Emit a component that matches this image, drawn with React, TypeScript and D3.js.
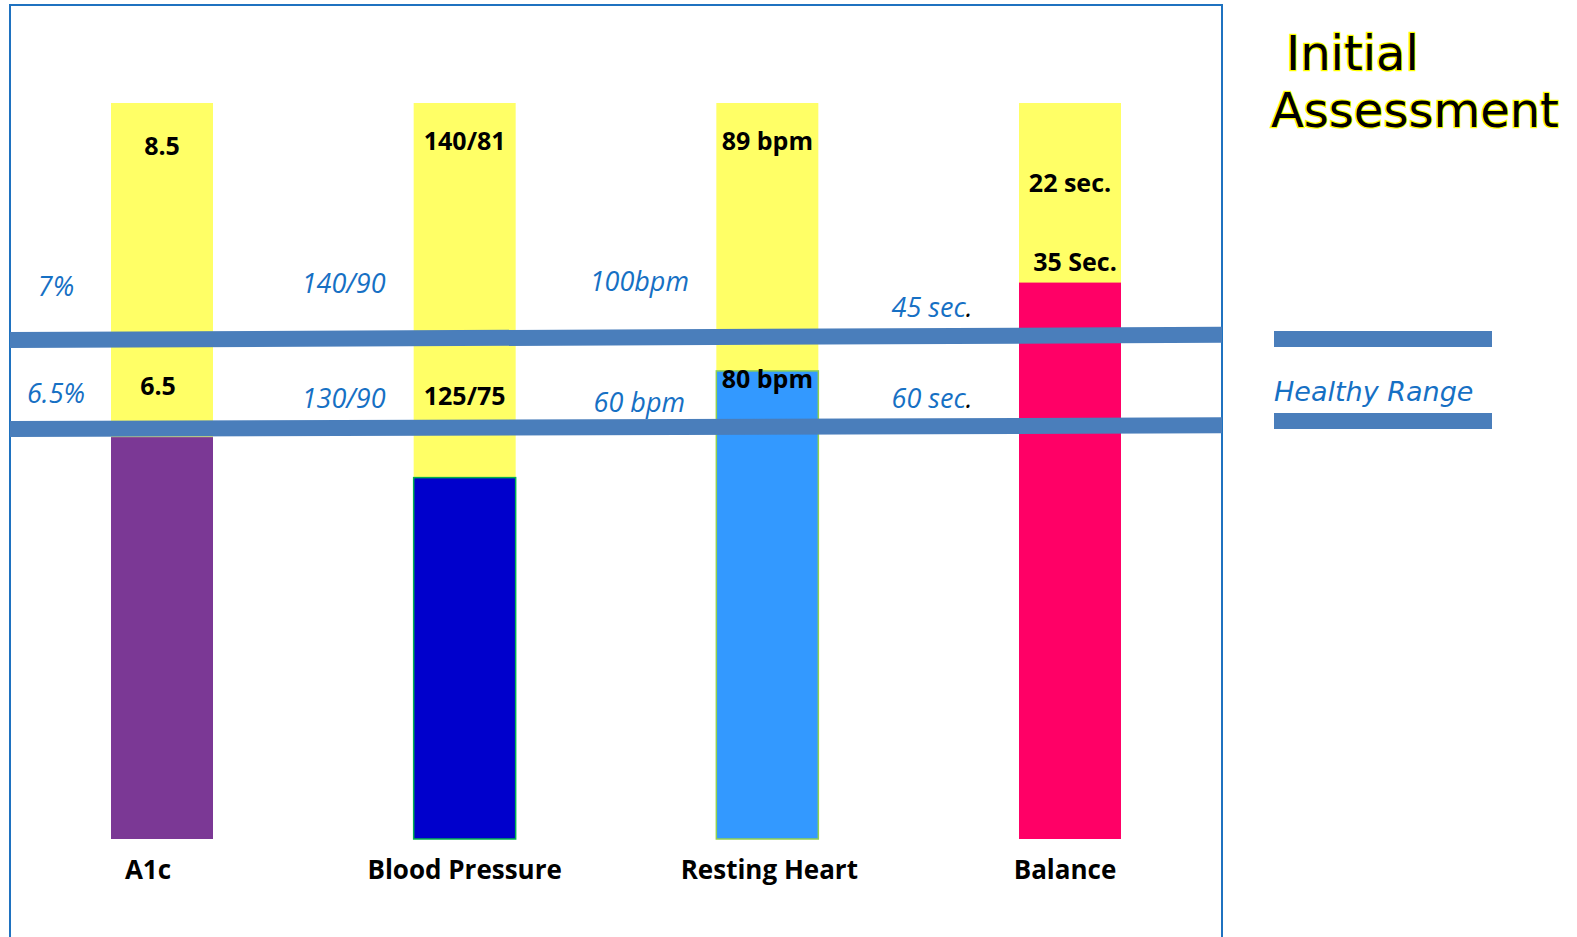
import * as d3 from "d3";

// categories and values (values on an arbitrary 0-100 "score" axis, yellow = initial)
const categories = ["A1c", "Blood Pressure", "Resting Heart", "Balance"];
const initialScore = [100, 100, 100, 100];
const currentScore = [54.6, 49.1, 63.6, 75.6];
const initialLabels = ["8.5", "140/81", "89 bpm", "22 sec."];
const currentLabels = ["6.5", "125/75", "80 bpm", "35 Sec."];
const upperLimitLabels = ["7%", "140/90", "100bpm", "45 sec"];
const lowerLimitLabels = ["6.5%", "130/90", "60 bpm", "60 sec"];
const barColors = ["#7b3895", "#0000cc", "#3399ff", "#ff0066"];
const barEdges = ["none", "#00b050", "#92d050", "none"];
// healthy range band (score units) at left and right end - slightly tilted
const bandLeft = [67.8, 55.7];
const bandRight = [68.5, 56.2];

// layout nudges (px)
const initialLabelY = [155, 150, 150, 192];
const currentLabelY = [395, 405, 388, 271];
const currentLabelDx = [-4, 0, 0, 5];
const upperLabelY = [296, 293, 291, 317];
const lowerLabelY = [403, 408, 412, 408];
const limitLabelDx = [-106, -121, -128, -138];
const catLabelDx = [-14, 0, 2, -5];

const W = 1577, H = 937;
const frame = { x: 10, y: 5, r: 1222 };
const barW = 102;

const x = d3.scalePoint<string>().domain(categories).range([162, 1070]);
const y = d3.scaleLinear().domain([0, 100]).range([839, 103]);

const blue = "#1670c4";
const bandColor = "#4a7ebb";

export default function App() {
  const bandLine = (i: number) =>
    d3.line()([[frame.x, y(bandLeft[i])], [frame.r, y(bandRight[i])]]) || "";
  return (
    <svg width={W} height={H} style={{ position: "absolute", left: 0, top: 0, background: "#fff" }}>
      <rect x={frame.x} y={frame.y} width={frame.r - frame.x} height={H + 20}
        fill="none" stroke="#1f72c0" strokeWidth={2} />
      {categories.map((c, i) => (
        <g key={c}>
          <rect x={x(c)! - barW / 2} y={y(initialScore[i])} width={barW}
            height={y(0) - y(initialScore[i])} fill="#ffff66" />
          <rect x={x(c)! - barW / 2} y={y(currentScore[i])} width={barW}
            height={y(0) - y(currentScore[i])} fill={barColors[i]}
            stroke={barEdges[i]} strokeWidth={1.5} />
        </g>
      ))}
      {[0, 1].map((i) => (
        <path key={i} d={bandLine(i)} stroke={bandColor} strokeWidth={16} fill="none" />
      ))}
      <g fontFamily="'Open Sans', sans-serif" fontWeight={700} fontSize={25} fill="#000" textAnchor="middle">
        {categories.map((c, i) => (
          <g key={c}>
            <text x={x(c)} y={initialLabelY[i]}>{initialLabels[i]}</text>
            <text x={x(c)! + currentLabelDx[i]} y={currentLabelY[i]}>{currentLabels[i]}</text>
            <text x={x(c)! + catLabelDx[i]} y={879} fontSize={26}>{c}</text>
          </g>
        ))}
      </g>
      <g fontFamily="'Open Sans', sans-serif" fontStyle="italic" fontSize={27} fill={blue} textAnchor="middle">
        {categories.map((c, i) => (
          <g key={c}>
            <text x={x(c)! + limitLabelDx[i]} y={upperLabelY[i]}>
              {upperLimitLabels[i]}{i === 3 && <tspan fill="#000">.</tspan>}
            </text>
            <text x={x(c)! + limitLabelDx[i]} y={lowerLabelY[i]}>
              {lowerLimitLabels[i]}{i === 3 && <tspan fill="#000">.</tspan>}
            </text>
          </g>
        ))}
      </g>
      {/* legend */}
      <rect x={1274} y={331} width={218} height={16} fill={bandColor} />
      <rect x={1274} y={413} width={218} height={16} fill={bandColor} />
      <text x={1274} y={401} fontFamily="'DejaVu Sans', sans-serif" fontStyle="italic"
        fontSize={27} fill={blue}>Healthy Range</text>
      <g fontFamily="'DejaVu Sans', sans-serif" fontSize={48} fill="#000"
        stroke="#ffff00" strokeWidth={2.5} style={{ paintOrder: "stroke" }}>
        <text x={1286} y={70}>Initial</text>
        <text x={1271} y={127}>Assessment</text>
      </g>
    </svg>
  );
}
